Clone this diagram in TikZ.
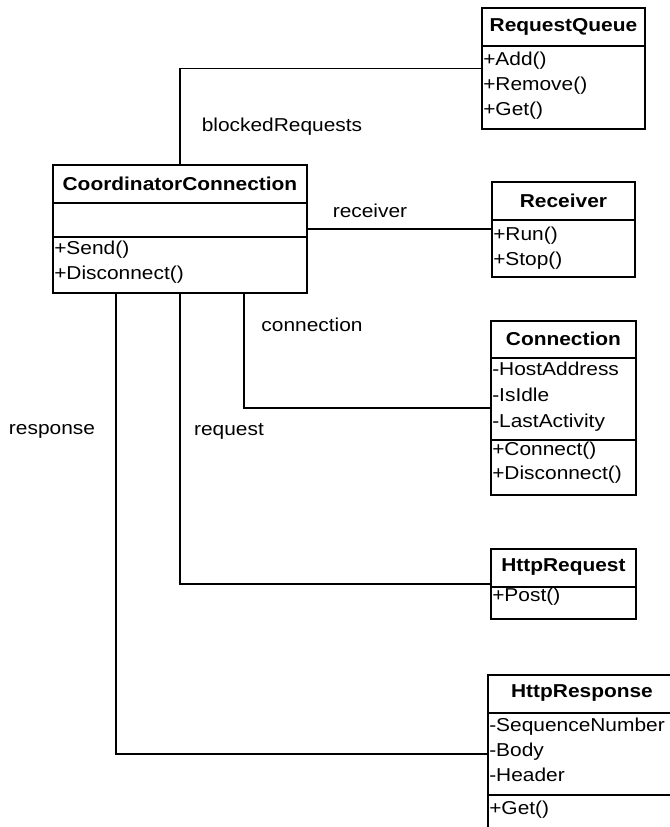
\documentclass[tikz,border=0pt]{standalone}
\usepackage{fontspec}
\setmainfont{Liberation Sans}[FakeStretch=1.12]
\usetikzlibrary{calc}

\tikzset{
  classbox/.style 2 args={draw, line width=1.4pt, anchor=north west, inner sep=0pt,
    minimum width=#1*0.75pt, minimum height=#2*0.75pt},
  title/.style={font=\fontsize{14}{17}\selectfont\bfseries},
  item/.style={anchor=west, inner sep=0pt, font=\fontsize{14}{17}\selectfont,
    text height=0.75em, text depth=0.22em},
  role/.style={font=\fontsize{14}{17}\selectfont},
  assoc/.style={line width=0.9pt},
  sep/.style={line width=1.4pt}
}

\begin{document}
\begin{tikzpicture}[x=0.75pt,y=-0.75pt]
  \useasboundingbox (0,0) rectangle (670,827);

  % classes
  \node[classbox={163}{121}] (queue) at (481,7) {};
  \draw[sep] (queue.west |- 0,46) -- (queue.east |- 0,46);
  \node[title] (queue-t) at ($(queue.north)+(0,19.5)$) {RequestQueue};
  \foreach \t [count=\i from 0] in {+Add(),+Remove(),+Get()}
    \node[item] (queue-m\i) at (483,62+25*\i) {\t};

  \node[classbox={254}{128}] (coord) at (52,164) {};
  \draw[sep] (coord.west |- 0,203) -- (coord.east |- 0,203);
  \draw[sep] (coord.west |- 0,237) -- (coord.east |- 0,237);
  \node[title] (coord-t) at ($(coord.north)+(0,19.5)$) {CoordinatorConnection};
  \foreach \t [count=\i from 0] in {+Send(),+Disconnect()}
    \node[item] (coord-m\i) at (54,251+25*\i) {\t};

  \node[classbox={143}{95}] (recv) at (491,181) {};
  \draw[sep] (recv.west |- 0,220) -- (recv.east |- 0,220);
  \node[title] (recv-t) at ($(recv.north)+(0,19.5)$) {Receiver};
  \foreach \t [count=\i from 0] in {+Run(),+Stop()}
    \node[item] (recv-m\i) at (493,237+25*\i) {\t};

  \node[classbox={145}{174}] (conn) at (490,320) {};
  \draw[sep] (conn.west |- 0,358) -- (conn.east |- 0,358);
  \draw[sep] (conn.west |- 0,440) -- (conn.east |- 0,440);
  \node[title] (conn-t) at ($(conn.north)+(0,19)$) {Connection};
  \foreach \t [count=\i from 0] in {-HostAddress,-IsIdle,-LastActivity}
    \node[item] (conn-a\i) at (492,372+26*\i) {\t};
  \foreach \t [count=\i from 0] in {+Connect(),+Disconnect()}
    \node[item] (conn-m\i) at (492,452+24*\i) {\t};

  \node[classbox={145}{70}] (req) at (490,548) {};
  \draw[sep] (req.west |- 0,587) -- (req.east |- 0,587);
  \node[title] (req-t) at ($(req.north)+(0,19.5)$) {HttpRequest};
  \node[item] (req-m0) at (492,598) {+Post()};

  % runs off the right and bottom edge
  \node[classbox={198}{158}] (resp) at (487,674) {};
  \draw[sep] (resp.west |- 0,713) -- (resp.east |- 0,713);
  \draw[sep] (resp.west |- 0,795) -- (resp.east |- 0,795);
  \node[title] (resp-t) at (582,693.5) {HttpResponse};
  \foreach \t [count=\i from 0] in {-SequenceNumber,-Body,-Header}
    \node[item] (resp-a\i) at (489,728+25*\i) {\t};
  \node[item] (resp-m0) at (489,811) {+Get()};

  % associations
  \draw[assoc] (coord.north) |- (queue.west);
  \draw[assoc] (coord.east) -- (coord.east -| recv.west);
  \draw[assoc] ($(coord.south west)!0.75!(coord.south east)$) |- (conn.west);
  \draw[assoc] (coord.south) |- (req.west);
  \draw[assoc] ($(coord.south west)!0.25!(coord.south east)$) |- (resp.west);

  \node[role] (queue-l) at (282,127) {blockedRequests};
  \node[role] (recv-l) at (370,211) {receiver};
  \node[role] (conn-l) at (312,325) {connection};
  \node[role] (resp-l) at (52,431) {response};
  \node[role] (req-l) at (229,431) {request};
\end{tikzpicture}
\end{document}
